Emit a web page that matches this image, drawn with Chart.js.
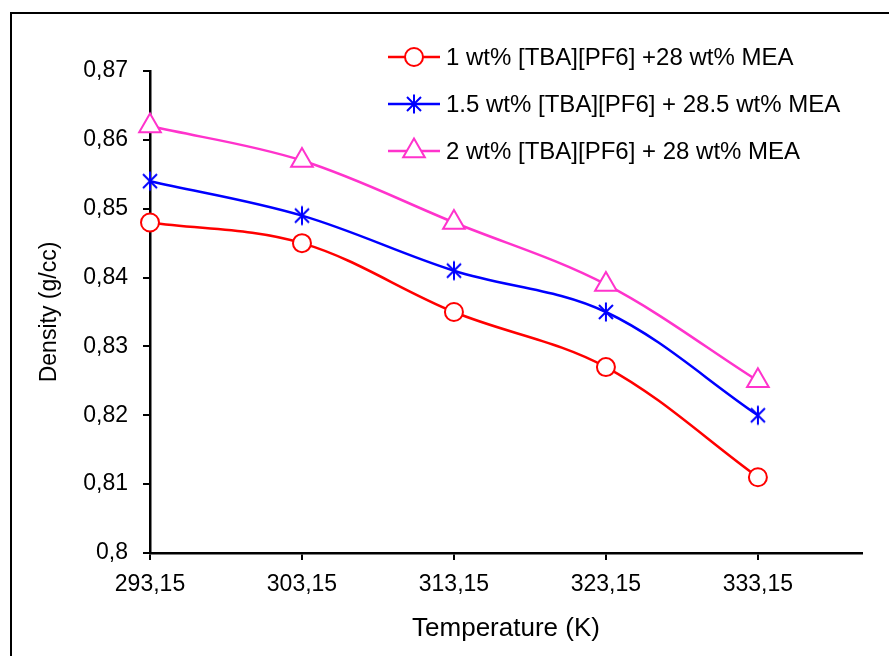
<!DOCTYPE html>
<html>
<head>
<meta charset="utf-8">
<script src="https://cdn.jsdelivr.net/npm/chart.js@4/dist/chart.umd.min.js"></script>
<style>
  html, body { margin: 0; padding: 0; background: #fff; overflow: hidden; }
  #wrap { position: relative; width: 889px; height: 656px; }
  #frame {
    position: absolute; left: 10px; top: 12px; width: 900px; height: 700px;
    border: 2px solid #000; box-sizing: border-box; pointer-events: none;
  }
  canvas { position: absolute; left: 0; top: 0; }
</style>
</head>
<body>
<div id="wrap">
  <div id="frame"></div>
  <canvas id="chart" width="889" height="656"></canvas>
</div>
<script>
// Data
const temperatures = [293.15, 303.15, 313.15, 323.15, 333.15];
const xTicks = [293.15, 303.15, 313.15, 323.15, 333.15];
const yTicks = [0.80, 0.81, 0.82, 0.83, 0.84, 0.85, 0.86, 0.87];
const seriesLabels = [
  '1 wt% [TBA][PF6] +28 wt% MEA',
  '1.5 wt% [TBA][PF6] + 28.5 wt% MEA',
  '2 wt% [TBA][PF6] + 28 wt% MEA'
];
const density1 = [0.848, 0.845, 0.835, 0.827, 0.811];
const density15 = [0.854, 0.849, 0.841, 0.835, 0.820];
const density2 = [0.862, 0.857, 0.848, 0.839, 0.825];

const FONT = 'Arial, "Liberation Sans", sans-serif';

// asterisk marker like the Excel one (vertical + X)
function makeStar(color) {
  const c = document.createElement('canvas');
  c.width = 22; c.height = 22;
  const g = c.getContext('2d');
  g.strokeStyle = color;
  g.lineWidth = 2;
  g.beginPath();
  g.moveTo(11, 1.5); g.lineTo(11, 20.5);
  g.moveTo(4, 4); g.lineTo(18, 18);
  g.moveTo(18, 4); g.lineTo(4, 18);
  g.stroke();
  return c;
}
const starImg = makeStar('#0000ff');

function pts(values) {
  return values.map((v, i) => ({ x: temperatures[i], y: v }));
}

function fmt(v) {
  return String(+v.toFixed(2)).replace('.', ',');
}

// ============ Legend (drawn on canvas) ============
const legendPlugin = {
  id: 'customLegend',
  afterDraw(chart) {
    const ctx = chart.ctx;
    const x0 = 388, x1 = 440, xm = 414, xt = 446;
    const rows = [57, 104, 151];
    chart.data.datasets.forEach((ds, i) => {
      const y = rows[i];
      ctx.save();
      ctx.strokeStyle = ds.borderColor;
      ctx.lineWidth = 2.5;
      ctx.beginPath();
      ctx.moveTo(x0, y); ctx.lineTo(x1, y);
      ctx.stroke();
      if (ds.pointStyle === 'circle') {
        ctx.fillStyle = '#fff';
        ctx.lineWidth = 2;
        ctx.beginPath();
        ctx.arc(xm, y, ds.pointRadius, 0, Math.PI * 2);
        ctx.fill(); ctx.stroke();
      } else if (ds.pointStyle === 'triangle') {
        const r = ds.pointRadius;
        ctx.fillStyle = '#fff';
        ctx.lineWidth = 2;
        ctx.beginPath();
        ctx.moveTo(xm, y - r);
        ctx.lineTo(xm + r * 0.866, y + r * 0.5);
        ctx.lineTo(xm - r * 0.866, y + r * 0.5);
        ctx.closePath();
        ctx.fill(); ctx.stroke();
      } else {
        ctx.drawImage(starImg, xm - 11, y - 11);
      }
      ctx.fillStyle = '#000';
      ctx.font = '24px ' + FONT;
      ctx.textBaseline = 'middle';
      ctx.fillText(seriesLabels[i], xt, y + 1);
      ctx.restore();
    });
  }
};

new Chart(document.getElementById('chart'), {
  type: 'line',
  data: {
    datasets: [
      {
        label: seriesLabels[0],
        data: pts(density1),
        borderColor: '#ff0000',
        backgroundColor: '#ffffff',
        borderWidth: 2.5,
        pointStyle: 'circle',
        pointRadius: 9,
        pointBorderWidth: 2,
        tension: 0.35,
        clip: false
      },
      {
        label: seriesLabels[1],
        data: pts(density15),
        borderColor: '#0000ff',
        backgroundColor: '#0000ff',
        borderWidth: 2.5,
        pointStyle: starImg,
        pointRadius: 10,
        tension: 0.35,
        clip: false
      },
      {
        label: seriesLabels[2],
        data: pts(density2),
        borderColor: '#ff33cc',
        backgroundColor: '#ffffff',
        borderWidth: 2.5,
        pointStyle: 'triangle',
        pointRadius: 12.5,
        pointBorderWidth: 2,
        tension: 0.35,
        clip: false
      }
    ]
  },
  options: {
    responsive: false,
    animation: false,
    layout: { padding: { left: 36, top: 71, right: 27, bottom: 0 } },
    plugins: {
      legend: { display: false },
      tooltip: { enabled: false }
    },
    scales: {
      x: {
        type: 'linear',
        min: 293.15,
        max: 340,
        afterBuildTicks: s => { s.ticks = xTicks.map(v => ({ value: v })); },
        afterFit: s => { s.height = 103; },
        border: { display: true, color: '#000', width: 2.5 },
        grid: { drawOnChartArea: false, drawTicks: true, tickLength: 7, color: '#000', lineWidth: 2 },
        ticks: {
          color: '#000',
          font: { family: FONT, size: 23 },
          padding: 11,
          maxRotation: 0,
          callback: v => v.toFixed(2).replace('.', ',')
        },
        title: {
          display: true,
          text: 'Temperature (K)',
          color: '#000',
          font: { family: FONT, size: 26 },
          padding: { top: 12, bottom: 12 }
        }
      },
      y: {
        min: 0.8,
        max: 0.87,
        afterBuildTicks: s => { s.ticks = yTicks.map(v => ({ value: v })); },
        afterFit: s => { s.width = 114; },
        border: { display: true, color: '#000', width: 2.5 },
        grid: { drawOnChartArea: false, drawTicks: true, tickLength: 7, color: '#000', lineWidth: 2 },
        ticks: {
          color: '#000',
          font: { family: FONT, size: 23 },
          padding: 15,
          callback: v => fmt(v)
        },
        title: {
          display: true,
          text: 'Density (g/cc)',
          color: '#000',
          font: { family: FONT, size: 23 },
          padding: { top: 0, bottom: 0 }
        }
      }
    }
  },
  plugins: [legendPlugin]
});
</script>
</body>
</html>
